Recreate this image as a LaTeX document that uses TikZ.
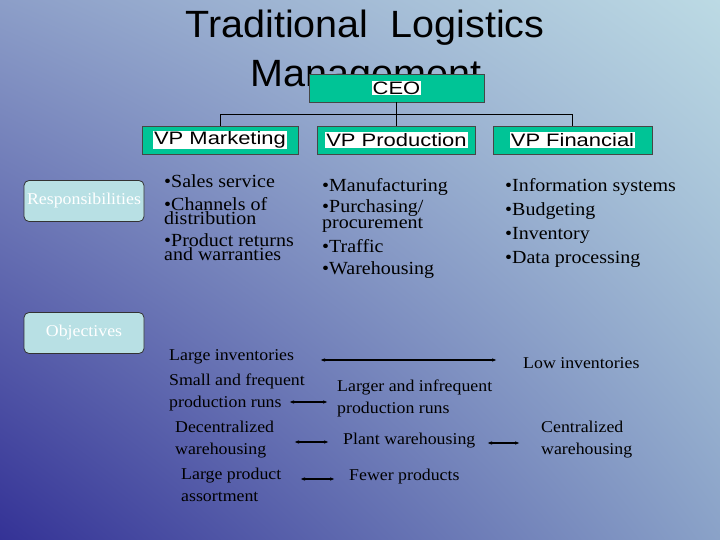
\documentclass[tikz,border=0pt]{standalone}
\usepackage{fontspec}
\setmainfont[FakeStretch=1.08]{Liberation Serif}
\newfontfamily\headfont[FakeStretch=1.04]{Liberation Sans}
\newfontfamily\boxfont[FakeStretch=1.22]{Liberation Sans}
\usetikzlibrary{arrows.meta,shadings}
\definecolor{bgdark}{RGB}{52,50,150}
\definecolor{bgleft}{RGB}{140,158,200}
\definecolor{bglight}{RGB}{188,218,228}
\definecolor{bgright}{RGB}{138,162,200}
\definecolor{orggreen}{RGB}{0,196,150}
\definecolor{tagfill}{RGB}{184,224,228}
\newcommand{\lbl}[1]{{\setlength{\fboxsep}{1pt}\colorbox{white}{#1}}}
\newcommand{\bt}{\textbullet}

\begin{document}
\begin{tikzpicture}[x=1pt,y=-1pt,
   title/.style={anchor=base,font=\headfont\fontsize{38}{38}\selectfont,inner sep=0pt},
   chief/.style={draw=gray!55!black,fill=orggreen,minimum height=28pt,
      font=\boxfont\fontsize{18}{18}\selectfont,inner sep=0pt},
   tag/.style={draw=black!80,fill=tagfill,rounded corners=5pt,line width=0.8pt,
      minimum width=120pt,minimum height=41pt,text=white,
      font=\fontsize{16.5}{16.5}\selectfont,inner sep=0pt},
   item/.style={anchor=west,align=left,inner sep=0pt,
      font=\fontsize{18.5}{12.5}\selectfont},
   goal/.style={anchor=west,align=left,inner sep=0pt,
      font=\fontsize{16.5}{22}\selectfont},
   pair/.style={{Latex[length=5pt,width=3.6pt]}-{Latex[length=5pt,width=3.6pt]},
      line width=1.1pt}]
   \useasboundingbox (0,0) rectangle (720,540);
   \shade[lower left=bgdark,upper left=bgleft,upper right=bglight,lower right=bgright]
    (0,0) rectangle (720,540);
   % heading
   \node[title] (t1) at (365,38) {Traditional\ \ Logistics};
   \node[title] (t2) at (366,87) {Management};
   % chart
   \node[chief,minimum width=175pt] (ceo) at (396.5,88) {\lbl{CEO}};
   \node[chief,minimum width=156pt] (vpm) at (220,140) {\lbl{VP Marketing}};
   \node[chief,minimum width=158pt] (vpp) at (396.5,140) {\lbl{VP Production}};
   \node[chief,minimum width=159pt] (vpf) at (572.5,140) {\lbl{VP Financial}};
   \draw (ceo.south) -- (vpp.north);
   \draw (vpm.north) -- ++(0,-12) -| (vpf.north);
   % responsibilities
   \node[tag] (resp) at (84,201) {Responsibilities};
   \node[item] (m1) at (164,181) {\bt Sales service};
   \node[item] (m2) at (164,211) {\bt Channels of\\distribution};
   \node[item] (m3) at (164,247) {\bt Product returns\\and warranties};
   \node[item] (p1) at (322,187) {\bt Manufacturing};
   \node[item] (p2) at (322,216) {\bt Purchasing/\\procurement};
   \node[item] (p3) at (322,246) {\bt Traffic};
   \node[item] (p4) at (322,270) {\bt Warehousing};
   \node[item] (f1) at (505,187) {\bt Information systems};
   \node[item] (f2) at (505,211) {\bt Budgeting};
   \node[item] (f3) at (505,235) {\bt Inventory};
   \node[item] (f4) at (505,259) {\bt Data processing};
   % objectives
   \node[tag] (obj) at (84,333) {Objectives};
   \node[goal] (g1) at (169,357) {Large inventories};
   \node[goal] (g2) at (169,392) {Small and frequent\\production runs};
   \node[goal] (g3) at (175,440) {Decentralized\\warehousing};
   \node[goal] (g4) at (181,485) {Large product\\assortment};
   \node[goal] (h1) at (523,363) {Low inventories};
   \node[goal] (h2) at (337,398) {Larger and infrequent\\production runs};
   \node[goal] (h3) at (343,441) {Plant warehousing};
   \node[goal] (h4) at (349,477) {Fewer products};
   \node[goal] (h5) at (541,440) {Centralized\\warehousing};
   \coordinate (a1l) at (320,360); \coordinate (a1r) at (497,360);
   \coordinate (a2l) at (289,402); \coordinate (a2r) at (328,402);
   \coordinate (a3l) at (294,442); \coordinate (a3r) at (329,442);
   \coordinate (a4l) at (300,479); \coordinate (a4r) at (335,479);
   \coordinate (a5l) at (487,443); \coordinate (a5r) at (520,443);
   \draw[pair] (a1l) -- (a1r);
   \draw[pair] (a2l) -- (a2r);
   \draw[pair] (a3l) -- (a3r);
   \draw[pair] (a4l) -- (a4r);
   \draw[pair] (a5l) -- (a5r);
\end{tikzpicture}
\end{document}
